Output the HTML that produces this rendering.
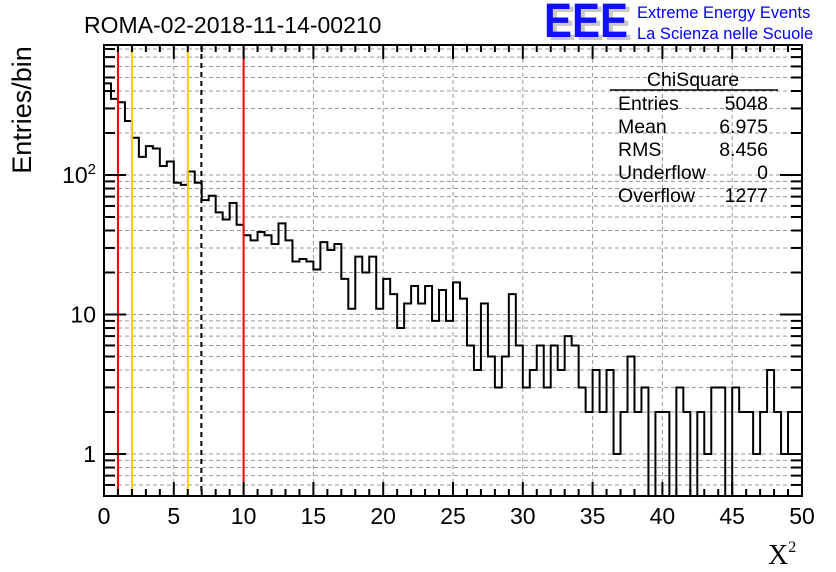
<!DOCTYPE html>
<html><head><meta charset="utf-8"><style>
html,body{margin:0;padding:0;background:#fff;}
svg{display:block;font-family:"Liberation Sans",sans-serif;}
</style></head><body>
<svg id="c" width="836" height="572" viewBox="0 0 836 572">
<text x="84" y="33" font-size="23">ROMA-02-2018-11-14-00210</text>
<g>
<text x="548" y="40" font-size="48" font-weight="bold" fill="#c8c8c8" textLength="84" lengthAdjust="spacingAndGlyphs">EEE</text>
<text x="544" y="37" font-size="48" font-weight="bold" fill="#1010ff" textLength="84" lengthAdjust="spacingAndGlyphs">EEE</text>
</g>
<text x="637" y="18" font-size="16.5" fill="#0000ff">Extreme Energy Events</text>
<text x="637" y="39" font-size="16.5" fill="#0000ff">La Scienza nelle Scuole</text>
<g id="grid"></g>
<g id="marks"></g>
<g id="axes"></g>
<text transform="translate(31,110) rotate(-90)" font-size="27" text-anchor="middle">Entries/bin</text>
<text x="768" y="564" font-size="28" font-family="Liberation Serif,serif">X<tspan font-size="16" dy="-12">2</tspan></text>
<g font-size="19.5">
<text x="693" y="86" text-anchor="middle">ChiSquare</text>
<line x1="610" y1="90" x2="778" y2="90" stroke="#000" stroke-width="1.5"/>
<text x="618" y="110">Entries</text><text x="768" y="110" text-anchor="end">5048</text>
<text x="618" y="133">Mean</text><text x="768" y="133" text-anchor="end">6.975</text>
<text x="618" y="156">RMS</text><text x="768" y="156" text-anchor="end">8.456</text>
<text x="618" y="179">Underflow</text><text x="768" y="179" text-anchor="end">0</text>
<text x="618" y="202">Overflow</text><text x="768" y="202" text-anchor="end">1277</text>
</g>
</svg>
<script>
const counts=[454,351,332,244,185,135,161,155,116,125,88,85,106,88,66,71,54,48,63,44,
37,34,39,37,32,45,34,24,25,24,21,33,29,32,18,11,26,20,26,11,
18,14,8,12,16,12,16,9,15,9,17,13,6,4,12,5,3,5,14,6,
3,4,6,3,6,4,7,6,3,2,4,2,4,1,2,5,2,3,0,2,
2,0,3,2,0,2,1,3,3,0,3,2,2,1,2,4,2,1,2,2];
const xMin=0,xMax=50,binW=0.5;
const xTicks=[0,5,10,15,20,25,30,35,40,45,50];
const yMajor=[1,10,100];
const yMajorBase=["1","10","10"];
const yMajorExp=["","","2"];
const cutLines=[{v:1,c:"#ff0000",d:""},{v:2,c:"#ffcc00",d:""},{v:6,c:"#ffcc00",d:""},{v:6.975,c:"#000",d:"5,4"},{v:10,c:"#ff0000",d:""}];
const L=104,R=802,T=45,B=496;
const yLo=0.5, yHi=Math.pow(10,(454-45)/139.5);
const NS="http://www.w3.org/2000/svg";
function X(v){return L+(v-xMin)/(xMax-xMin)*(R-L);}
function Y(v){return B-(Math.log10(v)-Math.log10(yLo))/(Math.log10(yHi)-Math.log10(yLo))*(B-T);}
function mk(t,a,p){const e=document.createElementNS(NS,t);for(const k in a)e.setAttribute(k,a[k]);p.appendChild(e);return e;}
const grid=document.getElementById('grid'),marks=document.getElementById('marks'),axes=document.getElementById('axes');
const yTickVals=[];
for(let d=0.1;d<=1000;d*=10)for(let m=1;m<=9;m++){const v=m*d;if(v>=yLo&&v<=yHi)yTickVals.push(v);}
yTickVals.forEach(v=>{
 const y=Y(v);
 const g=mk('line',{x1:L,x2:R,y1:y,y2:y,stroke:"#999","stroke-dasharray":"4,3","stroke-width":1},grid);
 
 
 const major=yMajor.some(m=>Math.abs(m-v)<1e-9);
 const len=major?22:11;
 mk('line',{x1:L,x2:L+len,y1:y,y2:y,stroke:"#000","stroke-width":2},axes);
 mk('line',{x1:R,x2:R-len,y1:y,y2:y,stroke:"#000","stroke-width":2},axes);
});
yMajor.forEach((v,i)=>{
 const t=mk('text',{x:L-8,y:Y(v)+8,"font-size":23,"text-anchor":"end"},axes);
 
 
 t.textContent=yMajorBase[i];
 if(yMajorExp[i]){const s=mk('tspan',{"font-size":15,dy:-9},t);s.textContent=yMajorExp[i];}
});
for(let v=xMin;v<=xMax+1e-9;v+=1){
 const x=X(v);const major=xTicks.includes(v);
 const len=major?14:7;
 mk('line',{x1:x,x2:x,y1:B,y2:B-len,stroke:"#000","stroke-width":2},axes);
 mk('line',{x1:x,x2:x,y1:T,y2:T+len,stroke:"#000","stroke-width":2},axes);
}
xTicks.forEach(v=>{
 const x=X(v);
 if(v>xMin&&v<xMax){const g=mk('line',{x1:x,x2:x,y1:T,y2:B,stroke:"#999","stroke-dasharray":"4,3","stroke-width":1},grid);
 
 }
 const t=mk('text',{x:x,y:B+28,"font-size":23,"text-anchor":"middle"},axes);
 
 
 t.textContent=v;
});
let d="";
counts.forEach((c,i)=>{
 const x0=X(i*binW),x1=X((i+1)*binW);
 const y=c>0?Math.max(T,Math.min(B,Y(c))):B;
 d+=(i===0?"M"+x0+","+y:"L"+x0+","+y)+" L"+x1+","+y+" ";
});
const h=mk('path',{d:d,fill:"none",stroke:"#000","stroke-width":2},marks);


cutLines.forEach(c=>{
 const l=mk('line',{x1:X(c.v),x2:X(c.v),y1:T,y2:B,stroke:c.c,"stroke-width":2,"stroke-dasharray":c.d},marks);
 
 
});
const f=mk('rect',{x:L,y:T,width:R-L,height:B-T,fill:"none",stroke:"#000","stroke-width":2},axes);


</script>
</body></html>
